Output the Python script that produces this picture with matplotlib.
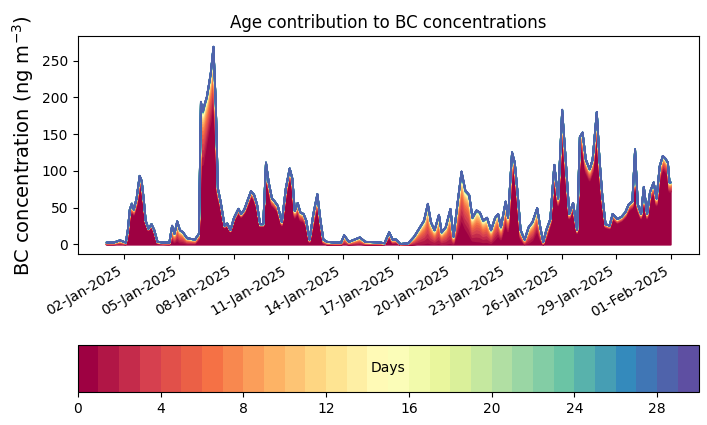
import matplotlib
matplotlib.use("Agg")
import matplotlib.pyplot as plt
import matplotlib.dates as mdates
import numpy as np
import pandas as pd

# time in days since 2025-01-01 00:00, total BC (ng m-3), fraction of day-0 BC
days = [0.0, 0.4, 0.74, 1.06, 1.17, 1.28, 1.39, 1.5, 1.65, 1.82, 1.93, 2.04, 2.15, 2.3, 2.47,
        2.62, 2.8, 3.1, 3.45, 3.6, 3.73, 3.88, 4.03, 4.2, 4.42, 4.85, 5.07, 5.18, 5.29, 5.4,
        5.5, 5.61, 5.72, 5.87, 6.0, 6.11, 6.26, 6.48, 6.63, 6.8, 7.0, 7.24, 7.39, 7.56, 7.78,
        7.93, 8.1, 8.26, 8.43, 8.6, 8.75, 8.9, 9.08, 9.23, 9.4, 9.62, 9.84, 10.05, 10.2, 10.33,
        10.49, 10.64, 10.81, 10.96, 11.14, 11.35, 11.57, 11.74, 11.9, 12.1, 12.5, 12.87, 13.04,
        13.3, 13.9, 14.2, 15.03, 15.25, 15.51, 15.7, 15.9, 16.12, 16.55, 16.88, 17.2, 17.42,
        17.63, 17.8, 18.0, 18.24, 18.39, 18.61, 18.87, 19.04, 19.26, 19.48, 19.69, 19.9, 20.08,
        20.3, 20.49, 20.67, 20.88, 21.1, 21.32, 21.49, 21.64, 21.9, 22.03, 22.25, 22.4, 22.55,
        22.72, 22.94, 23.16, 23.37, 23.63, 23.8, 23.96, 24.13, 24.35, 24.57, 24.78, 25.0, 25.17,
        25.39, 25.6, 25.82, 25.97, 26.12, 26.3, 26.51, 26.67, 26.9, 27.05, 27.2, 27.38, 27.6,
        27.77, 28.03, 28.25, 28.46, 28.65, 28.85, 29.0, 29.15, 29.33, 29.48, 29.66, 29.82,
        30.02, 30.18, 30.35, 30.52, 30.65, 30.8, 30.89, 30.96]
total_bc = [3, 3, 6, 3, 20, 48, 56, 48, 63, 94, 87, 63, 33, 22, 28,
            20, 4, 3, 3, 26, 15, 32, 20, 17, 9, 7, 15, 195, 182, 193,
            201, 217, 234, 270, 190, 77, 59, 26, 29, 20, 37, 49, 42, 48, 63,
            73, 68, 55, 28, 28, 112, 85, 63, 59, 53, 31, 77, 104, 90, 46,
            57, 44, 42, 33, 7, 42, 69, 33, 7, 4, 3, 3, 13,
            4, 10, 4, 3, 2, 17, 7, 7, 1, 2, 11, 24, 33,
            56, 31, 20, 41, 17, 24, 49, 11, 57, 100, 74, 68, 37,
            47, 44, 33, 37, 20, 37, 42, 24, 59, 37, 126, 112, 72,
            20, 7, 24, 31, 50, 24, 4, 20, 35, 109, 63, 184, 125,
            42, 57, 20, 147, 153, 116, 103, 116, 181, 116, 68, 28, 26,
            42, 35, 38, 44, 55, 59, 130, 55, 42, 79, 42, 72,
            85, 63, 107, 121, 118, 112, 85, 85]
frac_day0 = [0.2, 0.2, 0.2, 0.2, 0.6, 0.8, 0.85, 0.85, 0.85, 0.85, 0.88, 0.9, 0.9, 0.9, 0.9,
             0.85, 0.5, 0.3, 0.2, 0.3, 0.2, 0.2, 0.15, 0.15, 0.15, 0.2, 0.5, 0.55, 0.6, 0.65,
             0.7, 0.72, 0.72, 0.75, 0.75, 0.85, 0.88, 0.9, 0.9, 0.9, 0.9, 0.9, 0.9, 0.9, 0.9,
             0.9, 0.9, 0.9, 0.9, 0.9, 0.9, 0.88, 0.85, 0.85, 0.85, 0.85, 0.88, 0.9, 0.88, 0.8,
             0.75, 0.75, 0.75, 0.8, 0.5, 0.7, 0.8, 0.8, 0.3, 0.1, 0.1, 0.1, 0.1,
             0.1, 0.1, 0.1, 0.1, 0.3, 0.6, 0.3, 0.4, 0.1, 0.05, 0.05, 0.05, 0.05,
             0.05, 0.05, 0.05, 0.05, 0.05, 0.05, 0.05, 0.1, 0.3, 0.35, 0.3, 0.2, 0.15,
             0.1, 0.1, 0.1, 0.1, 0.1, 0.2, 0.3, 0.3, 0.5, 0.5, 0.8, 0.85, 0.85,
             0.4, 0.1, 0.1, 0.2, 0.4, 0.3, 0.1, 0.5, 0.8, 0.85, 0.85, 0.85, 0.85,
             0.85, 0.85, 0.8, 0.85, 0.85, 0.85, 0.85, 0.85, 0.85, 0.85, 0.85, 0.85, 0.85,
             0.85, 0.85, 0.85, 0.85, 0.85, 0.85, 0.85, 0.85, 0.85, 0.85, 0.85, 0.85,
             0.85, 0.85, 0.85, 0.85, 0.85, 0.85, 0.85, 0.85]
# share of the aged (>= 1 day) BC carried by each age 1..28 days
aged_weights = [0.16, 0.14, 0.12, 0.10, 0.09, 0.08, 0.07, 0.06, 0.05, 0.04, 0.03, 0.025,
                0.02, 0.015, 0.012, 0.01, 0.008, 0.006, 0.005, 0.004, 0.004, 0.003, 0.003,
                0.003, 0.003, 0.003, 0.003, 0.005]

n_days = 30
times = pd.Timestamp("2025-01-01") + pd.to_timedelta(days, unit="D")
total = np.array(total_bc, dtype=float)
f0 = np.array(frac_day0)
w = np.array(aged_weights) / sum(aged_weights)

layers = [total * f0] + [total * (1 - f0) * wi for wi in w]
cum = np.cumsum(layers, axis=0)

cmap = plt.get_cmap("Spectral", n_days)

fig = plt.figure(figsize=(7.07, 4.25), dpi=100)
ax = fig.add_axes([0.110, 0.402, 0.878, 0.513])

lower = np.zeros_like(total)
for i in range(len(cum)):
    ax.fill_between(times, lower, cum[i], color=cmap(i), edgecolor=cmap(i), linewidth=1.3)
    lower = cum[i]

ax.set_title("Age contribution to BC concentrations", fontsize=12)
ax.set_ylabel("BC concentration (ng m$^{-3}$)", fontsize=14)
ax.set_xticks(pd.date_range("2025-01-02", "2025-02-01", freq="3D"))
ax.xaxis.set_major_formatter(mdates.DateFormatter("%d-%b-%Y"))
plt.setp(ax.get_xticklabels(), rotation=30, ha="right")

cax = fig.add_axes([0.110, 0.078, 0.878, 0.111])
cb = matplotlib.colorbar.ColorbarBase(cax, cmap=cmap,
                                      norm=matplotlib.colors.Normalize(0, n_days),
                                      orientation="horizontal",
                                      ticks=range(0, n_days, 4))
cax.text(0.5, 0.5, "Days", ha="center", va="center", transform=cax.transAxes, fontsize=10)

fig.savefig("out.png", dpi=100)
